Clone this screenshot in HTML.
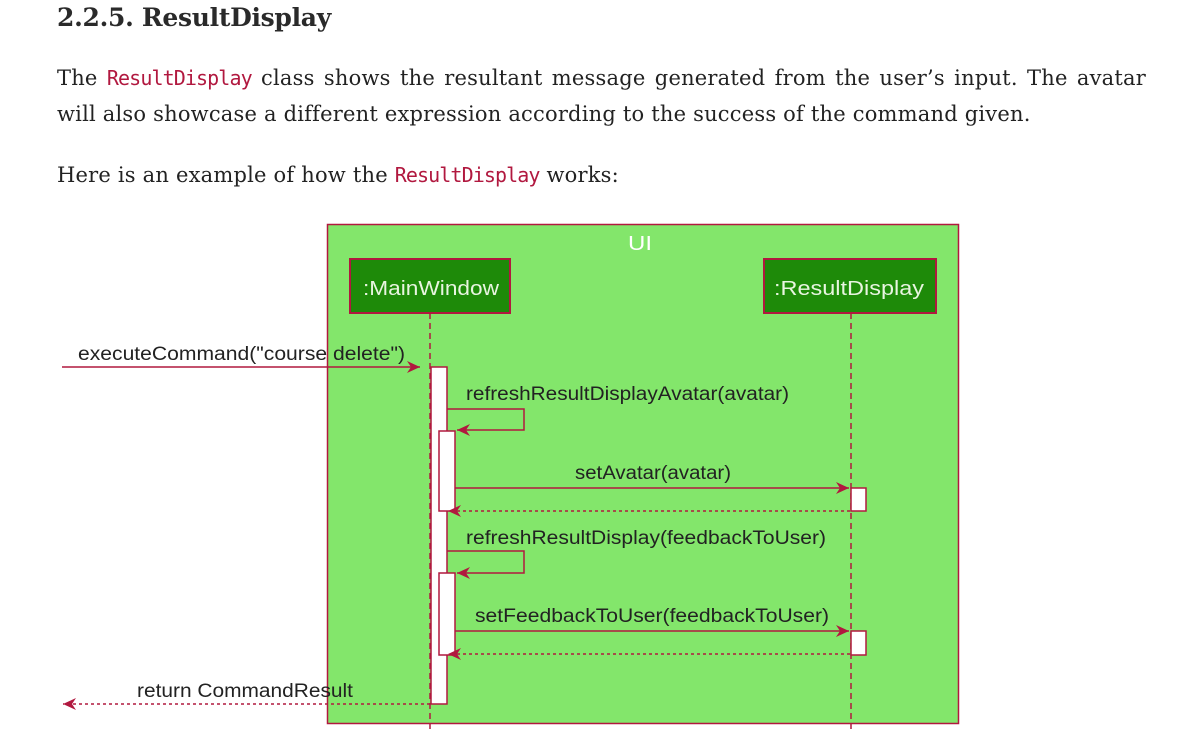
<!DOCTYPE html>
<html><head><meta charset="utf-8"><style>
html,body{margin:0;padding:0;background:#fff;width:1186px;height:746px;overflow:hidden}
.t{position:absolute;left:57px;font-family:"DejaVu Serif","Liberation Serif",serif;color:#222;white-space:nowrap}
code{font-family:"DejaVu Sans Mono","Liberation Mono",monospace;color:#b1183f;font-size:20px;letter-spacing:-0.9px}
.j{width:1089px;text-align:justify;text-align-last:justify;white-space:normal}
.b{font-size:21px;line-height:28px;letter-spacing:0.2px}
</style></head><body>
<div class="t" style="top:3px;font-size:25px;font-weight:bold;color:#2a2a2a;letter-spacing:-0.3px">2.2.5. ResultDisplay</div>
<div class="t j b" style="top:64px">The <code>ResultDisplay</code> class shows the resultant message generated from the user’s input. The avatar</div>
<div class="t b" style="top:100px">will also showcase a different expression according to the success of the command given.</div>
<div class="t b" style="top:161px">Here is an example of how the <code>ResultDisplay</code> works:</div>
<svg width="1186" height="746" style="position:absolute;left:0;top:0" font-family="Liberation Sans, Arial, sans-serif">
<defs>
<marker id="a" markerWidth="14" markerHeight="12" refX="13" refY="6" orient="auto" markerUnits="userSpaceOnUse"><path d="M0,0 L13,6 L0,12 L4,6 Z" fill="#b1183f"/></marker>
</defs>
<rect x="327.5" y="224.5" width="631" height="499" fill="#83e66b" stroke="#b1183f" stroke-width="1.5"/>
<text x="628" y="250" font-size="20" fill="#fff" textLength="24" lengthAdjust="spacingAndGlyphs">UI</text>
<rect x="350" y="259" width="160" height="54" fill="#1e8a09" stroke="#b1183f" stroke-width="2"/>
<text x="363" y="295" font-size="20" fill="#e8f5e0" textLength="136" lengthAdjust="spacingAndGlyphs">:MainWindow</text>
<rect x="764" y="259" width="172" height="54" fill="#1e8a09" stroke="#b1183f" stroke-width="2"/>
<text x="774" y="295" font-size="20" fill="#e8f5e0" textLength="150" lengthAdjust="spacingAndGlyphs">:ResultDisplay</text>
<line x1="430" y1="313" x2="430" y2="733" stroke="#b1183f" stroke-width="1.5" stroke-dasharray="6,4"/>
<line x1="851" y1="313" x2="851" y2="733" stroke="#b1183f" stroke-width="1.5" stroke-dasharray="6,4"/>
<rect x="431" y="367" width="16" height="337" fill="#fff" stroke="#b1183f" stroke-width="1.5"/>
<rect x="439" y="431" width="16" height="80" fill="#fff" stroke="#b1183f" stroke-width="1.5"/>
<rect x="439" y="573" width="16" height="82" fill="#fff" stroke="#b1183f" stroke-width="1.5"/>
<rect x="851" y="488" width="15" height="23" fill="#fff" stroke="#b1183f" stroke-width="1.5"/>
<rect x="851" y="631" width="15" height="24" fill="#fff" stroke="#b1183f" stroke-width="1.5"/>
<g font-size="19" fill="#222">
<text x="78" y="360" textLength="327" lengthAdjust="spacingAndGlyphs">executeCommand("course delete")</text>
<text x="466" y="400" textLength="323" lengthAdjust="spacingAndGlyphs">refreshResultDisplayAvatar(avatar)</text>
<text x="575" y="479" textLength="156" lengthAdjust="spacingAndGlyphs">setAvatar(avatar)</text>
<text x="466" y="544" textLength="360" lengthAdjust="spacingAndGlyphs">refreshResultDisplay(feedbackToUser)</text>
<text x="475" y="622" textLength="354" lengthAdjust="spacingAndGlyphs">setFeedbackToUser(feedbackToUser)</text>
<text x="137" y="697" textLength="216" lengthAdjust="spacingAndGlyphs">return CommandResult</text>
</g>
<g stroke="#b1183f" stroke-width="1.5" fill="none">
<line x1="62" y1="367" x2="420" y2="367" marker-end="url(#a)"/>
<polyline points="447,409 524,409 524,430 457,430" marker-end="url(#a)"/>
<line x1="455" y1="488" x2="849" y2="488" marker-end="url(#a)"/>
<line x1="850" y1="511" x2="448" y2="511" stroke-dasharray="3,3" marker-end="url(#a)"/>
<polyline points="447,551 524,551 524,573 457,573" marker-end="url(#a)"/>
<line x1="455" y1="631" x2="849" y2="631" marker-end="url(#a)"/>
<line x1="850" y1="654" x2="448" y2="654" stroke-dasharray="3,3" marker-end="url(#a)"/>
<line x1="430" y1="704" x2="63" y2="704" stroke-dasharray="3,3" marker-end="url(#a)"/>
</g>
</svg>
</body></html>
